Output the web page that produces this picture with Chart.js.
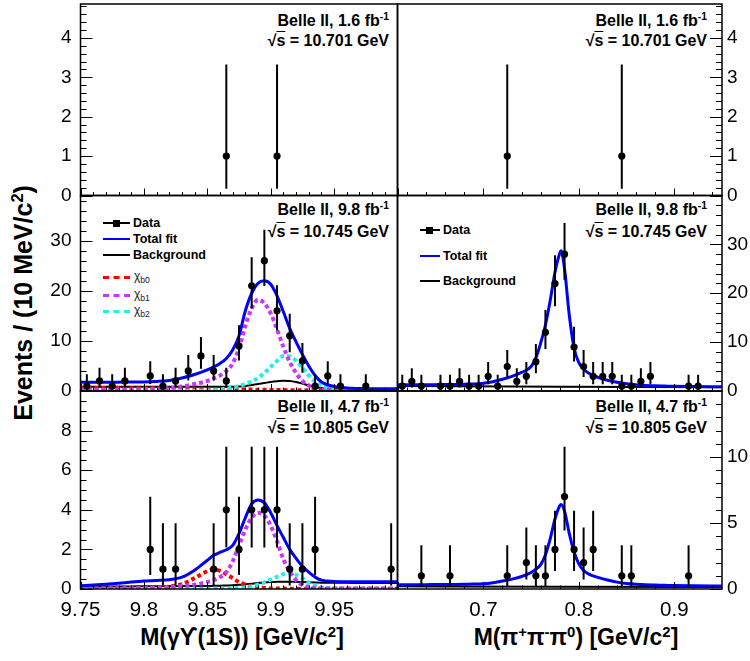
<!DOCTYPE html>
<html>
<head>
<meta charset="utf-8">
<title>Belle II yields</title>
<script src="https://cdn.jsdelivr.net/npm/chart.js@4.4.1/dist/chart.umd.min.js"></script>
<style>
  body{margin:0;width:750px;height:661px;background:#fff;position:relative;overflow:hidden;font-family:"Liberation Sans",Arial,Helvetica,sans-serif;color:#000}
  canvas{position:absolute;left:0;top:0}
  .txt{position:absolute;white-space:nowrap;line-height:20px}
  .ann{font-weight:bold;font-size:16px;text-align:right}
  .ttl{font-weight:bold;font-size:23px;transform:translate(-50%,-50%)}
  .lgt{font-weight:bold;font-size:12.5px;line-height:16px}
  .chi{font-size:12px;line-height:16px;color:#222}
  .ln{position:absolute;height:0;width:27px}
  sup{font-size:65%;vertical-align:0.55em;line-height:0}
  sub{font-size:72%;vertical-align:-0.35em;line-height:0}
</style>
</head>
<body>

<!-- annotations -->
<div class="txt ann" style="right:361px;top:11px">Belle II, 1.6 fb<sup>-1</sup></div>
<div class="txt ann" style="right:361px;top:31px">&radic;<span style="text-decoration:overline">s</span> = 10.701 GeV</div>
<div class="txt ann" style="right:43px;top:11px">Belle II, 1.6 fb<sup>-1</sup></div>
<div class="txt ann" style="right:43px;top:31px">&radic;<span style="text-decoration:overline">s</span> = 10.701 GeV</div>

<div class="txt ann" style="right:361px;top:200px">Belle II, 9.8 fb<sup>-1</sup></div>
<div class="txt ann" style="right:361px;top:222px">&radic;<span style="text-decoration:overline">s</span> = 10.745 GeV</div>
<div class="txt ann" style="right:43px;top:200px">Belle II, 9.8 fb<sup>-1</sup></div>
<div class="txt ann" style="right:43px;top:222px">&radic;<span style="text-decoration:overline">s</span> = 10.745 GeV</div>

<div class="txt ann" style="right:361px;top:397px">Belle II, 4.7 fb<sup>-1</sup></div>
<div class="txt ann" style="right:361px;top:418px">&radic;<span style="text-decoration:overline">s</span> = 10.805 GeV</div>
<div class="txt ann" style="right:43px;top:397px">Belle II, 4.7 fb<sup>-1</sup></div>
<div class="txt ann" style="right:43px;top:418px">&radic;<span style="text-decoration:overline">s</span> = 10.805 GeV</div>

<!-- legend, left middle -->
<div class="ln" style="left:103px;top:222px;border-top:2px solid #000"></div>
<div style="position:absolute;left:113px;top:219.5px;width:7px;height:7px;background:#000"></div>
<div class="txt lgt" style="left:133px;top:215px">Data</div>
<div class="ln" style="left:103px;top:238px;border-top:2px solid #0000ff"></div>
<div class="txt lgt" style="left:133px;top:231px">Total fit</div>
<div class="ln" style="left:103px;top:254px;border-top:2px solid #000"></div>
<div class="txt lgt" style="left:133px;top:247px">Background</div>
<div class="ln" style="left:103px;top:276px;border-top:3px dashed #ff0000"></div>
<div class="txt chi" style="left:134px;top:268px">&chi;<sub>b0</sub></div>
<div class="ln" style="left:103px;top:294px;border-top:3px dashed #cc33ff"></div>
<div class="txt chi" style="left:134px;top:286px">&chi;<sub>b1</sub></div>
<div class="ln" style="left:103px;top:310px;border-top:3px dashed #22eeee"></div>
<div class="txt chi" style="left:134px;top:302px">&chi;<sub>b2</sub></div>

<!-- legend, right middle -->
<div class="ln" style="left:420px;top:229px;width:20px;border-top:2px solid #000"></div>
<div style="position:absolute;left:426px;top:226.5px;width:7px;height:7px;background:#000"></div>
<div class="txt lgt" style="left:443px;top:222px">Data</div>
<div class="ln" style="left:420px;top:255px;width:20px;border-top:2px solid #0000ff"></div>
<div class="txt lgt" style="left:443px;top:248px">Total fit</div>
<div class="ln" style="left:420px;top:280px;width:20px;border-top:2px solid #000"></div>
<div class="txt lgt" style="left:443px;top:273px">Background</div>

<!-- axis titles -->
<div class="txt ttl" style="left:23px;top:303px;font-size:25px;transform:translate(-50%,-50%) rotate(-90deg)">Events / (10 MeV/c<sup>2</sup>)</div>
<div class="txt ttl" style="left:242px;top:637px">M(&gamma;&#978;(1S)) [GeV/c<sup>2</sup>]</div>
<div class="txt ttl" style="left:576px;top:637px">M(&pi;<sup>+</sup>&pi;<sup>-</sup>&pi;<sup>0</sup>) [GeV/c<sup>2</sup>]</div>

<script>
// ---- data: events per 10 MeV bin ----
const topL_x = [9.865, 9.905]
const topL_n = [1, 1]
const midL_x = [9.755, 9.765, 9.775, 9.785, 9.805, 9.815, 9.825, 9.835, 9.845, 9.855, 9.865, 9.875, 9.885, 9.895, 9.905, 9.915, 9.925, 9.935, 9.945, 9.955, 9.975]
const midL_n = [1, 2, 1, 2, 3, 1, 2, 4, 7, 4, 2, 9, 21, 26, 16, 11, 6, 1, 3, 1, 1]
const botL_x = [9.805, 9.815, 9.825, 9.855, 9.865, 9.875, 9.885, 9.895, 9.905, 9.915, 9.925, 9.935, 9.995]
const botL_n = [2, 1, 1, 1, 4, 2, 4, 4, 4, 1, 1, 2, 1]

const topR_x = [0.725, 0.845]
const topR_n = [1, 1]
const midR_x = [0.615, 0.625, 0.635, 0.655, 0.665, 0.675, 0.685, 0.695, 0.705, 0.715, 0.725, 0.735, 0.745, 0.755, 0.765, 0.775, 0.785, 0.795, 0.805, 0.815, 0.825, 0.835, 0.845, 0.855, 0.865, 0.875, 0.915, 0.925]
const midR_n = [1, 2, 1, 1, 1, 2, 1, 1, 3, 1, 5, 2, 3, 6, 12, 22, 28, 9, 5, 3, 3, 3, 1, 1, 2, 3, 1, 1]
const botR_x = [0.635, 0.665, 0.725, 0.745, 0.755, 0.765, 0.775, 0.785, 0.795, 0.805, 0.815, 0.845, 0.855, 0.915]
const botR_n = [1, 1, 1, 2, 1, 1, 3, 7, 3, 2, 3, 1, 1, 1]

// ---- fit curves ----
const LX = [9.75, 9.76, 9.77, 9.78, 9.79, 9.80, 9.81, 9.82, 9.83, 9.84, 9.85, 9.855, 9.86, 9.865, 9.87, 9.875, 9.88, 9.885, 9.89, 9.895, 9.90, 9.905, 9.91, 9.915, 9.92, 9.925, 9.93, 9.935, 9.94, 9.95, 9.96, 9.97, 9.98, 9.99, 10.0]
const midL_fit = [1.75, 1.75, 1.76, 1.77, 1.78, 1.8, 1.9, 2.1, 2.6, 3.3, 4.2, 4.8, 5.5, 6.5, 8.2, 11, 16, 19.5, 21.5, 22, 21.3, 19, 15.8, 12.5, 9.8, 7.3, 5.0, 3.1, 1.8, 0.9, 0.6, 0.5, 0.45, 0.45, 0.45]
const midL_bkg = [0.85, 0.85, 0.85, 0.85, 0.85, 0.85, 0.85, 0.85, 0.85, 0.85, 0.85, 0.85, 0.85, 0.85, 0.85, 0.9, 1.0, 1.2, 1.4, 1.6, 1.8, 1.95, 2.05, 2.0, 1.8, 1.5, 1.1, 0.8, 0.6, 0.45, 0.4, 0.4, 0.4, 0.4, 0.4]
const midL_b0 = [0.6, 0.6, 0.6, 0.58, 0.56, 0.55, 0.53, 0.5, 0.48, 0.45, 0.42, 0.4, 0.38, 0.36, 0.34, 0.32, 0.3, 0.28, 0.26, 0.24, 0.22, 0.2, 0.18, 0.17, 0.16, 0.15, 0.14, 0.13, 0.12, 0.1, 0.09, 0.08, 0.07, 0.06, 0.05]
const midL_b1 = [0.25, 0.25, 0.27, 0.3, 0.33, 0.37, 0.45, 0.6, 0.9, 1.4, 2.0, 2.5, 3.1, 4.0, 5.5, 8.5, 13.0, 16.5, 18.2, 17.5, 15.5, 12.3, 8.8, 5.8, 3.6, 2.0, 1.1, 0.55, 0.3, 0.1, 0.05, 0.03, 0.02, 0.02, 0.02]
const midL_b2 = [0.05, 0.05, 0.05, 0.05, 0.05, 0.05, 0.05, 0.05, 0.05, 0.05, 0.1, 0.15, 0.25, 0.45, 0.7, 1.0, 1.4, 1.9, 2.6, 3.6, 4.8, 6.0, 7.0, 6.9, 6.0, 4.6, 3.1, 1.9, 1.0, 0.35, 0.12, 0.06, 0.04, 0.03, 0.03]
const botL_fit = [0.16, 0.2, 0.24, 0.29, 0.35, 0.4, 0.43, 0.47, 0.6, 0.95, 1.45, 1.7, 1.85, 1.98, 2.2, 2.8, 3.6, 4.3, 4.5, 4.35, 3.85, 3.2, 2.6, 2.0, 1.55, 1.15, 0.85, 0.6, 0.45, 0.38, 0.36, 0.36, 0.37, 0.37, 0.37]
const botL_bkg = [0.12, 0.12, 0.13, 0.13, 0.13, 0.14, 0.14, 0.14, 0.15, 0.15, 0.15, 0.16, 0.17, 0.18, 0.19, 0.21, 0.24, 0.27, 0.3, 0.33, 0.35, 0.36, 0.37, 0.37, 0.36, 0.35, 0.34, 0.33, 0.32, 0.31, 0.31, 0.3, 0.3, 0.3, 0.3]
const botL_b0 = [0.01, 0.01, 0.02, 0.02, 0.03, 0.05, 0.08, 0.12, 0.25, 0.55, 0.9, 0.98, 0.92, 0.75, 0.55, 0.35, 0.22, 0.13, 0.08, 0.05, 0.03, 0.02, 0.02, 0.01, 0.01, 0.01, 0.01, 0.01, 0.01, 0.01, 0.01, 0.01, 0.01, 0.01, 0.01]
const botL_b1 = [0.02, 0.02, 0.03, 0.03, 0.04, 0.05, 0.07, 0.1, 0.15, 0.22, 0.35, 0.45, 0.6, 0.85, 1.4, 2.2, 3.0, 3.6, 3.85, 3.7, 3.2, 2.4, 1.5, 0.9, 0.45, 0.2, 0.1, 0.05, 0.03, 0.02, 0.02, 0.02, 0.02, 0.02, 0.02]
const botL_b2 = [0.01, 0.01, 0.01, 0.01, 0.01, 0.01, 0.01, 0.01, 0.01, 0.01, 0.01, 0.01, 0.01, 0.02, 0.03, 0.05, 0.08, 0.13, 0.22, 0.33, 0.47, 0.62, 0.75, 0.8, 0.72, 0.55, 0.32, 0.17, 0.08, 0.03, 0.02, 0.01, 0.01, 0.01, 0.01]

const RX = [0.61, 0.62, 0.63, 0.64, 0.65, 0.66, 0.67, 0.68, 0.69, 0.70, 0.71, 0.72, 0.73, 0.74, 0.75, 0.755, 0.76, 0.765, 0.77, 0.775, 0.78, 0.7815, 0.785, 0.79, 0.795, 0.80, 0.805, 0.81, 0.82, 0.83, 0.84, 0.85, 0.86, 0.87, 0.88, 0.89, 0.90, 0.92, 0.95]
const midR_fit = [1.3, 1.3, 1.3, 1.3, 1.3, 1.35, 1.35, 1.4, 1.45, 1.6, 1.9, 2.4, 3.0, 3.8, 5.0, 6.8, 9.8, 13.5, 18.5, 24.3, 28.2, 28.7, 25, 15.5, 8.8, 5.8, 4.5, 3.7, 2.8, 2.2, 1.8, 1.5, 1.3, 1.15, 1.05, 1.0, 0.95, 0.9, 0.85]
const botR_fit = [0.32, 0.32, 0.33, 0.33, 0.34, 0.34, 0.35, 0.36, 0.37, 0.4, 0.48, 0.6, 0.75, 0.95, 1.25, 1.5, 1.85, 2.6, 3.8, 5.3, 6.3, 6.4, 5.9, 4.2, 2.8, 1.9, 1.4, 1.15, 0.88, 0.68, 0.52, 0.42, 0.36, 0.32, 0.3, 0.28, 0.26, 0.24, 0.22]
const RBX = [0.61, 0.78, 0.95]
const midR_bkg = [1.0, 0.88, 0.75]
const botR_bkg = [0.2, 0.17, 0.15]

// ---- axis tick labels ----
const xTicksL = [9.75, 9.8, 9.85, 9.9, 9.95]
const xTicksR = [0.7, 0.8, 0.9]
const yTicksTop = [0, 1, 2, 3, 4]
const yTicksMid = [0, 10, 20, 30]
const yTicksBotL = [0, 2, 4, 6, 8]
const yTicksBotR = [0, 5, 10]

const FONT = "'Liberation Sans', Arial, Helvetica, sans-serif"

// asymmetric Poisson (Gehrels) intervals for the counts
function poisHi(n) { return n == 0 ? 1.841 : n + Math.sqrt(n + 0.75) + 1 }
function poisLo(n) { return n == 0 ? 0 : n * Math.pow(1 - 1 / (9 * n) - 1 / (3 * Math.sqrt(n)), 3) }

Chart.register({
  id: 'errBars',
  afterDatasetsDraw(chart) {
    let ctx = chart.ctx, a = chart.chartArea, ys = chart.scales.y
    chart.data.datasets.forEach((ds, i) => {
      if (!ds.counts) return
      ctx.save()
      ctx.beginPath(); ctx.rect(a.left, a.top, a.width, a.height); ctx.clip()
      ctx.strokeStyle = '#000'; ctx.lineWidth = 2
      chart.getDatasetMeta(i).data.forEach((pt, j) => {
        let n = ds.counts[j]
        ctx.beginPath()
        ctx.moveTo(pt.x, ys.getPixelForValue(poisLo(n)))
        ctx.lineTo(pt.x, ys.getPixelForValue(poisHi(n)))
        ctx.stroke()
      })
      ctx.restore()
    })
  }
})

// ROOT style frame with inward ticks
Chart.register({
  id: 'frame',
  afterDraw(chart, args, o) {
    let ctx = chart.ctx, a = chart.chartArea, xs = chart.scales.x, ys = chart.scales.y
    ctx.save()
    ctx.strokeStyle = '#000'; ctx.lineWidth = 1
    for (let i = 0; ; i++) {
      let v = o.x0 + i * o.xMinor
      if (v > xs.max + 1e-9) break
      let px = Math.round(xs.getPixelForValue(v)) + 0.5
      let major = Math.abs(v / o.xMajor - Math.round(v / o.xMajor)) < 1e-6
      ctx.beginPath(); ctx.moveTo(px, a.bottom); ctx.lineTo(px, a.bottom - (major ? 7 : 3.5)); ctx.stroke()
    }
    for (let i = 0; ; i++) {
      let v = i * o.yMinor
      if (v > ys.max + 1e-9) break
      let py = Math.round(ys.getPixelForValue(v)) + 0.5
      let major = Math.abs(v / o.yMajor - Math.round(v / o.yMajor)) < 1e-6
      let len = major ? 12 : 6
      ctx.beginPath()
      if (o.side == 'left') { ctx.moveTo(a.left, py); ctx.lineTo(a.left + len, py) }
      else { ctx.moveTo(a.right, py); ctx.lineTo(a.right - len, py) }
      ctx.stroke()
    }
    ctx.lineWidth = 1.5
    ctx.strokeRect(a.left, a.top, a.width, a.height)
    ctx.restore()
  }
})

function panel(o) {
  let cv = document.createElement('canvas')
  cv.width = 750; cv.height = 661
  document.body.appendChild(cv)
  let sets = o.curves.map(c => ({
    data: c.x.map((v, i) => ({x: v, y: c.y[i]})),
    showLine: true, pointRadius: 0, borderColor: c.col, borderWidth: c.w,
    borderDash: c.dash || [], cubicInterpolationMode: 'monotone', order: 1
  }))
  sets.unshift({
    data: o.x.map((v, i) => ({x: v, y: o.n[i]})), counts: o.n,
    showLine: false, pointRadius: 3.6, pointBackgroundColor: '#000', pointBorderWidth: 0, order: 0
  })
  let left = o.side == 'left'
  let r = o.rect // [left, top, right, bottom] of the frame
  new Chart(cv, {
    type: 'scatter',
    data: {datasets: sets},
    options: {
      responsive: false, animation: false, events: [],
      layout: {padding: {
        left: left ? r[0] - 80 : r[0],
        right: left ? 750 - r[2] : 750 - r[2] - 28,
        top: r[1],
        bottom: 661 - r[3] - (o.xTicks ? 30 : 0)
      }},
      plugins: {
        legend: {display: false}, tooltip: {enabled: false},
        frame: {x0: o.x0, xMinor: o.xMinor, xMajor: o.xMajor, yMinor: o.yMinor, yMajor: o.yMajor, side: o.side}
      },
      scales: {
        x: {
          type: 'linear', min: o.xmin, max: o.xmax, display: !!o.xTicks,
          grid: {display: false, drawTicks: false}, border: {display: false},
          ticks: {font: {family: FONT, size: 20.5}, color: '#000', padding: 9, maxRotation: 0, autoSkip: false, callback: v => String(v)},
          afterBuildTicks: s => { if (o.xTicks) s.ticks = o.xTicks.map(v => ({value: v})) },
          afterFit: s => { s.height = o.xTicks ? 30 : 0; s.paddingLeft = 0; s.paddingRight = 0 }
        },
        y: {
          type: 'linear', min: 0, max: o.ymax, position: o.side,
          grid: {display: false, drawTicks: false}, border: {display: false},
          ticks: {font: {family: FONT, size: 19}, color: '#000', padding: left ? 9 : 5, autoSkip: false, callback: v => String(v)},
          afterBuildTicks: s => { s.ticks = o.yTicks.map(v => ({value: v})) },
          afterFit: s => { s.width = left ? 80 : 28; s.paddingTop = 0; s.paddingBottom = 0 }
        }
      }
    }
  })
}

const red = '#ff0000', mag = '#cc33ff', cyan = '#22eeee', blue = '#0000ff'

let leftAxis = {side: 'left', xmin: 9.75, xmax: 10.0, x0: 9.75, xMinor: 0.01, xMajor: 0.05}
let rightAxis = {side: 'right', xmin: 0.61, xmax: 0.95, x0: 0.62, xMinor: 0.02, xMajor: 0.1}

panel(Object.assign({}, leftAxis, {rect: [80.5, 4, 397.5, 195.5], ymax: 4.86, yTicks: yTicksTop, yMinor: 0.2, yMajor: 1,
  x: topL_x, n: topL_n, curves: []}))
panel(Object.assign({}, rightAxis, {rect: [397.5, 4, 722, 195.5], ymax: 4.86, yTicks: yTicksTop, yMinor: 0.2, yMajor: 1,
  x: topR_x, n: topR_n, curves: []}))

panel(Object.assign({}, leftAxis, {rect: [80.5, 195.5, 397.5, 391], ymax: 39, yTicks: yTicksMid, yMinor: 2, yMajor: 10,
  x: midL_x, n: midL_n, curves: [
    {x: LX, y: midL_fit, col: blue, w: 3},
    {x: LX, y: midL_b1, col: mag, w: 4, dash: [4, 3]},
    {x: LX, y: midL_b2, col: cyan, w: 4, dash: [4, 3]},
    {x: LX, y: midL_b0, col: red, w: 4, dash: [4, 3]},
    {x: LX, y: midL_bkg, col: '#000', w: 2}
  ]}))
panel(Object.assign({}, rightAxis, {rect: [397.5, 195.5, 722, 391], ymax: 40, yTicks: yTicksMid, yMinor: 2, yMajor: 10,
  x: midR_x, n: midR_n, curves: [
    {x: RX, y: midR_fit, col: blue, w: 3},
    {x: RBX, y: midR_bkg, col: '#000', w: 2}
  ]}))

panel(Object.assign({}, leftAxis, {rect: [80.5, 391, 397.5, 589], ymax: 10, yTicks: yTicksBotL, yMinor: 0.5, yMajor: 2, xTicks: xTicksL,
  x: botL_x, n: botL_n, curves: [
    {x: LX, y: botL_fit, col: blue, w: 3},
    {x: LX, y: botL_b1, col: mag, w: 4, dash: [4, 3]},
    {x: LX, y: botL_b2, col: cyan, w: 4, dash: [4, 3]},
    {x: LX, y: botL_b0, col: red, w: 4, dash: [4, 3]},
    {x: LX, y: botL_bkg, col: '#000', w: 2}
  ]}))
panel(Object.assign({}, rightAxis, {rect: [397.5, 391, 722, 589], ymax: 15, yTicks: yTicksBotR, yMinor: 1, yMajor: 5, xTicks: xTicksR,
  x: botR_x, n: botR_n, curves: [
    {x: RX, y: botR_fit, col: blue, w: 3},
    {x: RBX, y: botR_bkg, col: '#000', w: 2}
  ]}))
</script>
</body>
</html>
